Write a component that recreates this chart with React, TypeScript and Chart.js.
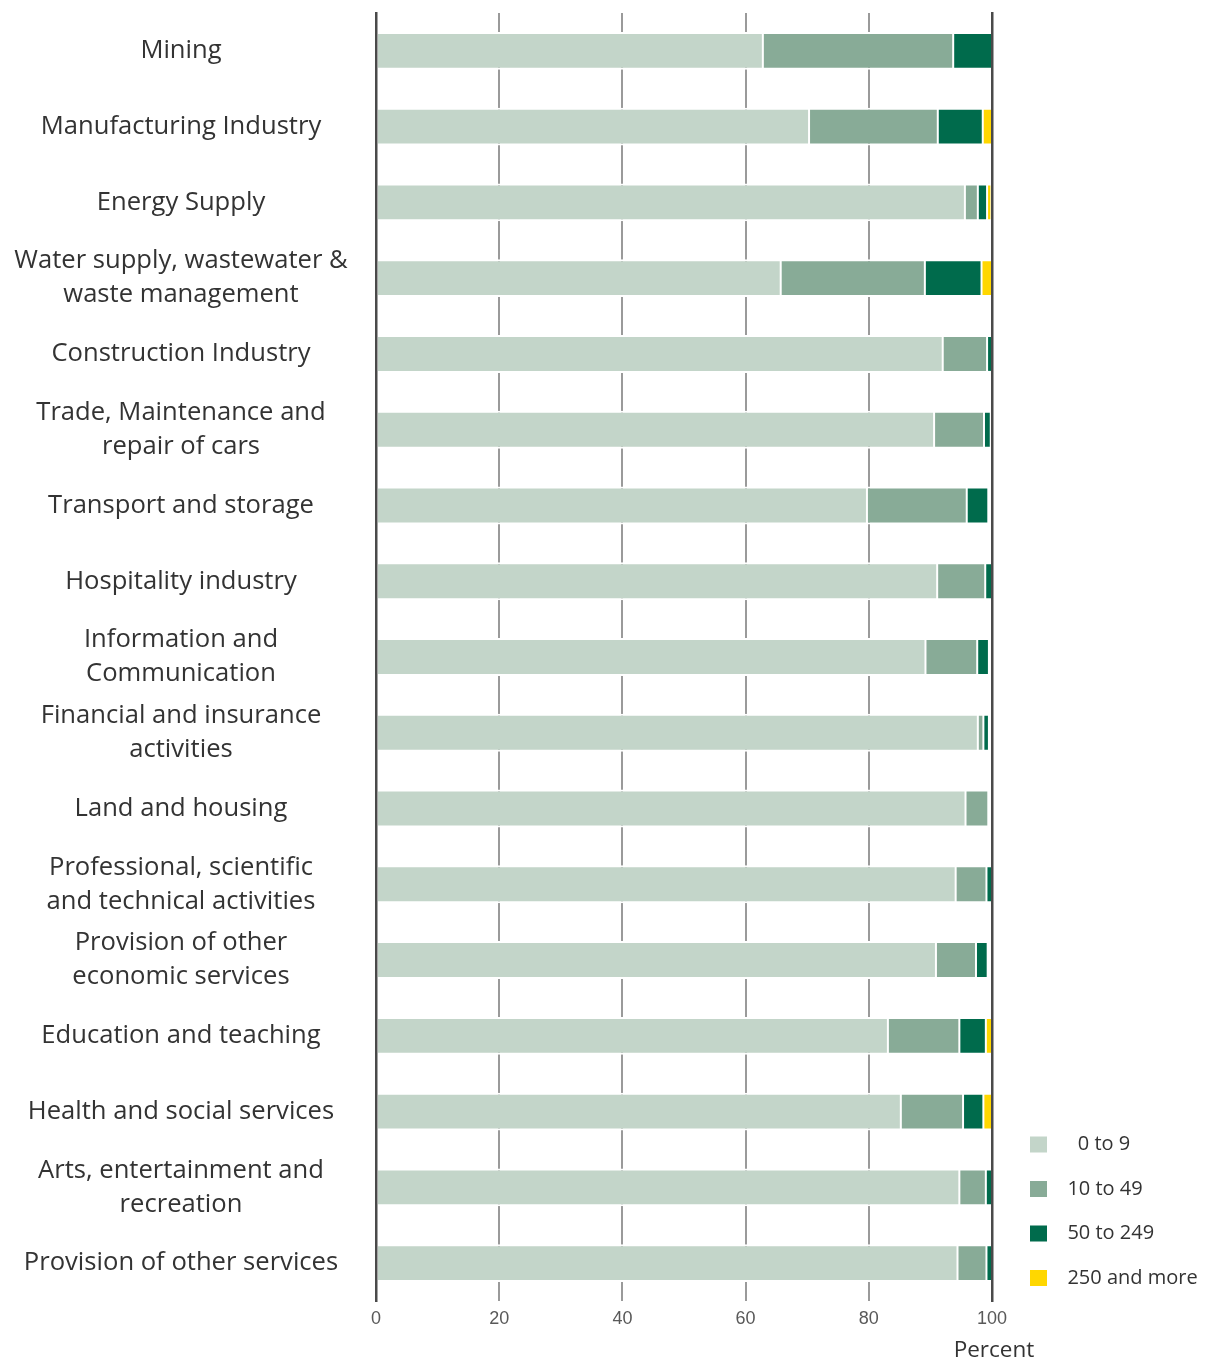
import React, { useEffect, useRef } from "react";
import { Chart, registerables } from "chart.js";

Chart.register(...registerables);

const categories: (string | string[])[] = [
  "Mining",
  "Manufacturing Industry",
  "Energy Supply",
  ["Water supply, wastewater &", "waste management"],
  "Construction Industry",
  ["Trade, Maintenance and", "repair of cars"],
  "Transport and storage",
  "Hospitality industry",
  ["Information and", "Communication"],
  ["Financial and insurance", "activities"],
  "Land and housing",
  ["Professional, scientific", "and technical activities"],
  ["Provision of other", "economic services"],
  "Education and teaching",
  "Health and social services",
  ["Arts, entertainment and", "recreation"],
  "Provision of other services",
];

const seriesLabels = ["0 to 9", "10 to 49", "50 to 249", "250 and more"];

const size0to9 = [62.8, 70.3, 95.6, 65.7, 92.0, 90.6, 79.7, 91.1, 89.2, 97.7, 95.7, 94.1, 90.9, 83.1, 85.2, 94.7, 94.4];
const size10to49 = [30.9, 20.9, 2.1, 23.4, 7.2, 8.1, 16.2, 7.8, 8.4, 0.9, 3.7, 5.0, 6.5, 11.6, 10.1, 4.3, 4.7];
const size50to249 = [6.3, 7.3, 1.5, 9.2, 0.8, 1.1, 3.5, 1.1, 1.9, 0.9, 0, 0.9, 1.9, 4.3, 3.3, 1.0, 0.9];
const size250plus = [0, 1.5, 0.7, 1.7, 0, 0.2, 0.2, 0, 0, 0, 0, 0, 0.3, 1.0, 1.4, 0, 0];

const xTicks = [0, 20, 40, 60, 80, 100];
const xTitle = "Percent";

const colors = ["#c3d5c9", "#88ab97", "#006b4c", "#ffd700"];

const W = 1207;
const H = 1361;
const LABEL_FONT = '"Open Sans"';
const Y_FONT_SIZE = 25.6;

export default function App() {
  const ref = useRef<HTMLCanvasElement | null>(null);

  useEffect(() => {
    const canvas = ref.current;
    if (!canvas) return;

    // measure widest y label line so the labels can be centred around x=181
    const mctx = document.createElement("canvas").getContext("2d")!;
    mctx.font = `${Y_FONT_SIZE}px ${LABEL_FONT}`;
    let widest = 0;
    categories.forEach((c) => {
      const lines = Array.isArray(c) ? c : [c];
      lines.forEach((l) => {
        widest = Math.max(widest, mctx.measureText(l).width);
      });
    });
    const yPad = 195 - widest / 2;

    const seriesData = [size0to9, size10to49, size50to249, size250plus];

    const percentPlugin = {
      id: "percentTitle",
      afterDraw(chart: any) {
        const xs = chart.scales.x;
        const c = chart.ctx;
        c.save();
        c.font = `22.5px ${LABEL_FONT}`;
        c.fillStyle = "#333333";
        c.textAlign = "center";
        c.textBaseline = "middle";
        c.fillText(xTitle, xs.getPixelForValue(100) + 2, chart.chartArea.bottom + 50);
        c.restore();
      },
    };

    const legendShift = {
      id: "legendShift",
      afterLayout(chart: any) {
        const lg = chart.legend;
        if (!lg) return;
        const d = chart.chartArea.bottom + 11.5 - lg.bottom;
        lg.top += d;
        lg.bottom += d;
      },
    };

    const chart = new Chart(canvas, {
      type: "bar",
      data: {
        labels: categories as any,
        datasets: seriesData.map((d, i) => ({
          label: seriesLabels[i],
          data: d,
          backgroundColor: colors[i],
          borderColor: "#ffffff",
          borderWidth: { top: 2, bottom: 2, left: 1, right: 1 },
          borderSkipped: false,
          barPercentage: 0.5,
          categoryPercentage: 1,
        })),
      },
      options: {
        indexAxis: "y",
        responsive: false,
        animation: false,
        events: [],
        layout: { padding: { left: 0, top: 13, right: 6.5, bottom: 24.4 } },
        scales: {
          x: {
            stacked: true,
            min: 0,
            max: 100,
            afterBuildTicks: (s: any) => {
              s.ticks = xTicks.map((v) => ({ value: v }));
            },
            grid: { color: "#9a9a9a", lineWidth: 2, drawTicks: false },
            border: { display: false },
            ticks: {
              font: { family: "Liberation Sans", size: 18 },
              color: "#595959",
              padding: 7,
              maxRotation: 0,
            },
          },
          y: {
            stacked: true,
            position: "left",
            grid: { display: false, drawTicks: false },
            border: { display: true, color: "#4a4a4a", width: 2.5, z: 1 },
            afterFit: (s: any) => {
              s.width = 376;
              s.paddingTop = 0;
              s.paddingBottom = 0;
            },
            ticks: {
              font: { family: "Open Sans", size: Y_FONT_SIZE, lineHeight: 1.33 },
              color: "#333333",
              crossAlign: "center",
              padding: yPad,
              autoSkip: false,
            },
          },
          y2: {
            type: "category",
            position: "right",
            grid: { display: false, drawTicks: false },
            border: { display: true, color: "#4a4a4a", width: 2.5, z: 1 },
            ticks: { display: false },
            afterFit: (s: any) => {
              s.width = 13.5;
              s.paddingTop = 0;
              s.paddingBottom = 0;
            },
          },
        },
        plugins: {
          tooltip: { enabled: false },
          title: { display: false },
          legend: {
            display: true,
            position: "right",
            align: "end",
            fullSize: false,
            maxWidth: 195,
            labels: {
              font: { family: "Open Sans", size: 20 },
              color: "#333333",
              boxWidth: 17,
              boxHeight: 16,
              padding: 24.5,
              generateLabels: (ch: any) => {
                const items = Chart.defaults.plugins.legend.labels.generateLabels(ch);
                return items.map((it: any, i: number) => ({
                  ...it,
                  text: (i === 0 ? "    " : "  ") + it.text,
                  lineWidth: 0,
                  strokeStyle: "rgba(0,0,0,0)",
                }));
              },
            },
          },
        },
      } as any,
      plugins: [percentPlugin, legendShift],
    });

    return () => chart.destroy();
  }, []);

  return (
    <div style={{ position: "absolute", left: 0, top: 0, width: W, height: H, background: "#ffffff" }}>
      <canvas ref={ref} width={W} height={H} style={{ display: "block" }} />
    </div>
  );
}
